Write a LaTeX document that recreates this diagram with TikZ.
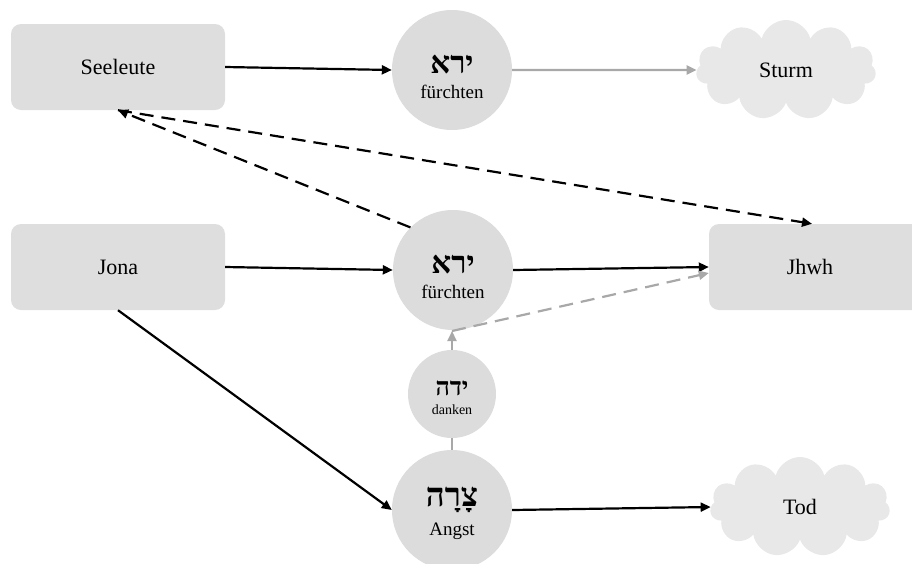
\documentclass[tikz,border=0pt]{standalone}
\usepackage{fontspec}
\setmainfont{Liberation Serif}
\newfontfamily\hebr[Script=Hebrew]{Liberation Serif}
\TeXXeTstate=1
\usepackage{tikz}
\usetikzlibrary{arrows.meta,shapes.symbols}

\definecolor{boxgray}{HTML}{DEDEDE}
\definecolor{circgray}{HTML}{DCDCDC}
\definecolor{cloudgray}{HTML}{E8E8E8}
\definecolor{linegray}{HTML}{A8A8A8}

\tikzset{
    box/.style={rounded corners=10pt, fill=boxgray, minimum width=214pt, minimum height=86pt, font=\fontsize{22}{26}\selectfont},
    verb/.style={circle, fill=circgray, inner sep=0pt, minimum size=#1, align=center},
    verb/.default=120pt,
    wolke/.style={cloud, cloud puffs=11, aspect=1.9, fill=cloudgray, minimum width=180pt, minimum height=100pt, font=\fontsize{22}{26}\selectfont},
    pfeil/.style={line width=2.2pt, -{Triangle[length=10pt,width=9pt]}},
    graupfeil/.style={pfeil, draw=linegray},
    strich/.style={pfeil, dash pattern=on 14pt off 8pt},
}
% Hebrew word with a strut above it, German gloss below
\newcommand{\hb}[3]{\rule{0pt}{#3}{\hebr\bfseries\fontsize{#2}{#2}\selectfont\beginR #1\endR}}
\newcommand{\dt}[2]{{\fontsize{#2}{#2}\selectfont #1}}

\begin{document}
\begin{tikzpicture}[x=1pt,y=-1pt]
\useasboundingbox (0,0) rectangle (912,563);

\node[box] (seeleute) at (118,67) {Seeleute};
\node[box] (jona) at (118,267) {Jona};
\node[box] (jhwh) at (816,267) {\hspace*{-12pt}Jhwh};

\node[verb, font=\fontsize{19}{25}\selectfont] (yira1) at (452,70) {\hb{ירא}{31}{32pt}\\\dt{fürchten}{19}};
\node[verb, font=\fontsize{19}{25}\selectfont] (yira2) at (453,270) {\hb{ירא}{31}{32pt}\\\dt{fürchten}{19}};
\node[verb=88pt, font=\fontsize{14}{19}\selectfont] (yada) at (452,394) {\hb{ידה}{25}{22pt}\\\dt{danken}{14}};
\node[verb, font=\fontsize{19}{29}\selectfont] (tsarah) at (452,510) {\hb{צָרָה}{33}{26pt}\\\dt{Angst}{19}};

\node[wolke] (sturm) at (786,70) {Sturm};
\node[wolke] (tod) at (800,507) {Tod};

\coordinate (knick) at (452,331);

    \draw[pfeil] (seeleute.east) -- (yira1.west);
    \draw[graupfeil] (yira1.east) -- (sturm.west);

    \draw[pfeil] (jona.east) -- (yira2.west);
    \draw[pfeil] (yira2.east) -- (jhwh.west);
    \draw[pfeil] (jona.south) -- (tsarah.west);
    \draw[pfeil] (tsarah.east) -- (tod.west);

    \draw[strich] (yira2.135) -- (seeleute.south);
    \draw[strich] (seeleute.south) -- ([xshift=-4pt]jhwh.north);

    \draw[line width=2.2pt, linegray] (tsarah.north) -- (yada.south);
    \draw[graupfeil] (yada.north) -- (knick);
    \draw[graupfeil, dash pattern=on 14pt off 8pt] (knick) -- ([yshift=-6pt]jhwh.west);

\end{tikzpicture}
\end{document}
